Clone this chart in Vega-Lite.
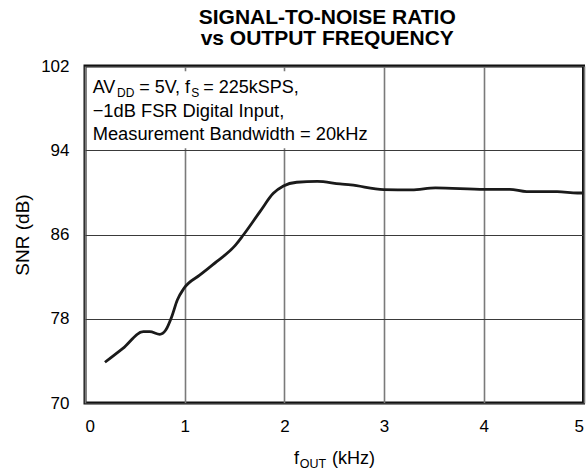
{
  "$schema": "https://vega.github.io/schema/vega-lite/v6.json",
  "width": 498.5,
  "height": 337,
  "autosize": {"type": "none"},
  "padding": {"left": 85, "top": 66, "right": 3.5, "bottom": 72},
  "background": "white",
  "config": {
    "view": {"stroke": "#111", "strokeWidth": 3},
    "font": "Liberation Sans"
  },
  "title": {
    "text": ["SIGNAL-TO-NOISE RATIO", "vs OUTPUT FREQUENCY"],
    "fontSize": 21,
    "font": "Liberation Sans",
    "fontWeight": "bold",
    "color": "#000",
    "anchor": "middle",
    "frame": "group",
    "offset": 11,
    "lineHeight": 21,
    "baseline": "bottom",
    "dx": -7,
    "dy": 24.4
  },
  "layer": [
    {
      "data": {"values": [{}]},
      "mark": {"type": "rect", "fill": "white"},
      "encoding": {
        "x": {"datum": 0.02, "type": "quantitative", "scale": {"domain": [0, 5], "nice": false, "zero": false}},
        "x2": {"datum": 2.94},
        "y": {"datum": 94.2, "type": "quantitative", "scale": {"domain": [70, 102], "nice": false, "zero": false}},
        "y2": {"datum": 101.5}
      }
    },
    {
      "data": {
        "values": [
          {"f": 0.2, "snr": 73.87},
          {"f": 0.38, "snr": 75.19},
          {"f": 0.585, "snr": 76.77},
          {"f": 0.65, "snr": 76.77},
          {"f": 0.75, "snr": 76.52},
          {"f": 0.81, "snr": 76.93},
          {"f": 0.87, "snr": 78.2},
          {"f": 0.926, "snr": 79.78},
          {"f": 0.993, "snr": 80.89},
          {"f": 1.153, "snr": 82.16},
          {"f": 1.32, "snr": 83.42},
          {"f": 1.505, "snr": 84.94},
          {"f": 1.588, "snr": 85.95},
          {"f": 1.755, "snr": 88.17},
          {"f": 1.889, "snr": 89.91},
          {"f": 1.99, "snr": 90.61},
          {"f": 2.123, "snr": 90.96},
          {"f": 2.33, "snr": 91.05},
          {"f": 2.558, "snr": 90.8},
          {"f": 2.666, "snr": 90.71},
          {"f": 2.995, "snr": 90.27},
          {"f": 3.277, "snr": 90.24},
          {"f": 3.515, "snr": 90.43},
          {"f": 4.006, "snr": 90.29},
          {"f": 4.26, "snr": 90.29},
          {"f": 4.43, "snr": 90.07},
          {"f": 4.736, "snr": 90.07},
          {"f": 4.94, "snr": 89.94},
          {"f": 5.0, "snr": 89.94}
        ]
      },
      "mark": {"type": "line", "color": "#1a1a1a", "strokeWidth": 2.8, "interpolate": "monotone"},
      "encoding": {
        "x": {
          "field": "f", "type": "quantitative",
          "scale": {"domain": [0, 5], "nice": false, "zero": false},
          "axis": {
            "title": null, "values": [0, 1, 2, 3, 4, 5], "format": "d", "domain": false, "ticks": false,
            "labelFontSize": 17, "labelFont": "Liberation Sans", "labelColor": "#000", "labelPadding": 15,
            "grid": true, "gridColor": "#7a7a7a", "gridWidth": 1.6, "gridOpacity": 1
          }
        },
        "y": {
          "field": "snr", "type": "quantitative",
          "scale": {"domain": [70, 102], "nice": false, "zero": false},
          "axis": {
            "title": "SNR (dB)", "titleFontSize": 19, "titleFont": "Liberation Sans", "titleFontWeight": "normal", "titleColor": "#000", "titlePadding": 8,
            "values": [70, 78, 86, 94, 102], "format": "d", "domain": false, "ticks": false,
            "labelFontSize": 17, "labelFont": "Liberation Sans", "labelColor": "#000", "labelPadding": 16,
            "grid": true, "gridColor": "#3a3a3a", "gridWidth": 1.2, "gridOpacity": 1
          }
        }
      }
    },
    {
      "data": {"values": [{}]},
      "mark": {"type": "text", "align": "left", "baseline": "alphabetic", "fontSize": 18, "font": "Liberation Sans", "color": "#000"},
      "encoding": {"x": {"datum": 0.077, "type": "quantitative"}, "y": {"datum": 99.41, "type": "quantitative"}, "text": {"value": "AV"}}
    },
    {
      "data": {"values": [{}]},
      "mark": {"type": "text", "align": "left", "baseline": "alphabetic", "fontSize": 12, "font": "Liberation Sans", "color": "#000", "dx": 24.3, "dy": 4},
      "encoding": {"x": {"datum": 0.077, "type": "quantitative"}, "y": {"datum": 99.41, "type": "quantitative"}, "text": {"value": "DD"}}
    },
    {
      "data": {"values": [{}]},
      "mark": {"type": "text", "align": "left", "baseline": "alphabetic", "fontSize": 18, "font": "Liberation Sans", "color": "#000", "dx": 46.5},
      "encoding": {"x": {"datum": 0.077, "type": "quantitative"}, "y": {"datum": 99.41, "type": "quantitative"}, "text": {"value": "= 5V, f"}}
    },
    {
      "data": {"values": [{}]},
      "mark": {"type": "text", "align": "left", "baseline": "alphabetic", "fontSize": 12, "font": "Liberation Sans", "color": "#000", "dx": 98.5, "dy": 4},
      "encoding": {"x": {"datum": 0.077, "type": "quantitative"}, "y": {"datum": 99.41, "type": "quantitative"}, "text": {"value": "S"}}
    },
    {
      "data": {"values": [{}]},
      "mark": {"type": "text", "align": "left", "baseline": "alphabetic", "fontSize": 18, "font": "Liberation Sans", "color": "#000", "dx": 110.5},
      "encoding": {"x": {"datum": 0.077, "type": "quantitative"}, "y": {"datum": 99.41, "type": "quantitative"}, "text": {"value": "= 225kSPS,"}}
    },
    {
      "data": {"values": [{}]},
      "mark": {"type": "text", "align": "left", "baseline": "alphabetic", "fontSize": 18.3, "font": "Liberation Sans", "color": "#000"},
      "encoding": {"x": {"datum": 0.077, "type": "quantitative"}, "y": {"datum": 97.19, "type": "quantitative"}, "text": {"value": "−1dB FSR Digital Input,"}}
    },
    {
      "data": {"values": [{}]},
      "mark": {"type": "text", "align": "left", "baseline": "alphabetic", "fontSize": 18.3, "font": "Liberation Sans", "color": "#000"},
      "encoding": {"x": {"datum": 0.077, "type": "quantitative"}, "y": {"datum": 94.98, "type": "quantitative"}, "text": {"value": "Measurement Bandwidth = 20kHz"}}
    },
    {
      "data": {"values": [{}]},
      "mark": {"type": "text", "align": "left", "baseline": "alphabetic", "fontSize": 18, "font": "Liberation Sans", "color": "#000"},
      "encoding": {"x": {"datum": 2.096, "type": "quantitative"}, "y": {"datum": 64.25, "type": "quantitative"}, "text": {"value": "f"}}
    },
    {
      "data": {"values": [{}]},
      "mark": {"type": "text", "align": "left", "baseline": "alphabetic", "fontSize": 12.5, "font": "Liberation Sans", "color": "#000", "dx": 5.9, "dy": 4},
      "encoding": {"x": {"datum": 2.096, "type": "quantitative"}, "y": {"datum": 64.25, "type": "quantitative"}, "text": {"value": "OUT"}}
    },
    {
      "data": {"values": [{}]},
      "mark": {"type": "text", "align": "left", "baseline": "alphabetic", "fontSize": 18, "font": "Liberation Sans", "color": "#000", "dx": 38},
      "encoding": {"x": {"datum": 2.096, "type": "quantitative"}, "y": {"datum": 64.25, "type": "quantitative"}, "text": {"value": "(kHz)"}}
    }
  ]
}
